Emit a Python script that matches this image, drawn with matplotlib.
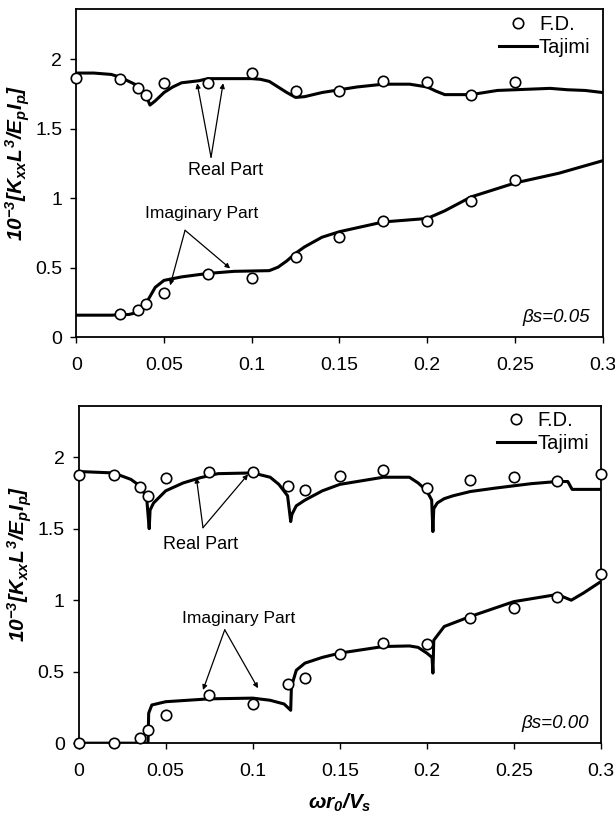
import numpy as np
import matplotlib
matplotlib.use('Agg')
import matplotlib.pyplot as plt
from matplotlib.lines import Line2D

plt.rcParams['font.family'] = ['Liberation Sans', 'DejaVu Sans']
plt.rcParams['mathtext.fontset'] = 'custom'
plt.rcParams['mathtext.it'] = 'Liberation Sans:italic:bold'
plt.rcParams['mathtext.rm'] = 'Liberation Sans:italic:bold'
plt.rcParams['mathtext.bf'] = 'Liberation Sans:italic:bold'
plt.rcParams['mathtext.default'] = 'it'

# ---- beta_s = 0.05 (top) ----
# Tajimi solution, real part
taj_re_05_x = [0, 0.01, 0.02, 0.025, 0.03, 0.035, 0.04, 0.042, 0.045, 0.05, 0.055, 0.06, 0.07,
               0.075, 0.09, 0.1, 0.105, 0.11, 0.115, 0.12, 0.125, 0.13, 0.14, 0.15, 0.16, 0.175,
               0.19, 0.2, 0.205, 0.21, 0.225, 0.24, 0.25, 0.26, 0.27, 0.28, 0.29, 0.3]
taj_re_05_y = [1.90, 1.90, 1.89, 1.87, 1.84, 1.81, 1.73, 1.67, 1.70, 1.76, 1.80, 1.83, 1.845,
               1.86, 1.86, 1.86, 1.855, 1.84, 1.80, 1.76, 1.725, 1.73, 1.76, 1.78, 1.80, 1.82,
               1.82, 1.80, 1.77, 1.745, 1.745, 1.775, 1.78, 1.785, 1.79, 1.78, 1.775, 1.76]
# Tajimi solution, imaginary part
taj_im_05_x = [0, 0.02, 0.03, 0.035, 0.04, 0.045, 0.05, 0.06, 0.075, 0.09, 0.11, 0.115, 0.12,
               0.125, 0.13, 0.14, 0.15, 0.175, 0.2, 0.21, 0.225, 0.25, 0.275, 0.3]
taj_im_05_y = [0.16, 0.16, 0.165, 0.18, 0.25, 0.36, 0.41, 0.435, 0.46, 0.475, 0.48, 0.505, 0.55,
               0.605, 0.65, 0.72, 0.76, 0.83, 0.855, 0.91, 1.01, 1.11, 1.18, 1.27]
# F.D. results
fd_re_05_x = [0, 0.025, 0.035, 0.04, 0.05, 0.075, 0.1, 0.125, 0.15, 0.175, 0.2, 0.225, 0.25]
fd_re_05_y = [1.865, 1.855, 1.79, 1.745, 1.83, 1.83, 1.90, 1.77, 1.77, 1.845, 1.835, 1.74, 1.835]
fd_im_05_x = [0.025, 0.035, 0.04, 0.05, 0.075, 0.1, 0.125, 0.15, 0.175, 0.2, 0.225, 0.25]
fd_im_05_y = [0.17, 0.195, 0.237, 0.32, 0.453, 0.43, 0.58, 0.72, 0.84, 0.84, 0.98, 1.13]

# ---- beta_s = 0.00 (bottom) ----
taj_re_00_x = [0, 0.02, 0.03, 0.035, 0.039, 0.0405, 0.041, 0.043, 0.05, 0.06, 0.07, 0.08, 0.1,
               0.11, 0.115, 0.12, 0.1218, 0.1225, 0.125, 0.13, 0.14, 0.15, 0.175, 0.19, 0.195,
               0.2, 0.2028, 0.2035, 0.204, 0.206, 0.21, 0.215, 0.225, 0.24, 0.25, 0.26, 0.275,
               0.281, 0.2835, 0.3]
taj_re_00_y = [1.90, 1.89, 1.845, 1.80, 1.72, 1.50, 1.63, 1.68, 1.765, 1.82, 1.857, 1.885, 1.89,
               1.86, 1.81, 1.73, 1.55, 1.60, 1.66, 1.70, 1.765, 1.81, 1.86, 1.86, 1.82,
               1.765, 1.70, 1.48, 1.64, 1.68, 1.71, 1.73, 1.76, 1.785, 1.80, 1.815, 1.83,
               1.83, 1.775, 1.775]
taj_im_00_x = [0, 0.0398, 0.0402, 0.042, 0.05, 0.075, 0.1, 0.11, 0.118, 0.1218, 0.1222, 0.125,
               0.13, 0.14, 0.15, 0.175, 0.19, 0.195, 0.2, 0.203, 0.2035, 0.204, 0.21, 0.225,
               0.25, 0.275, 0.283, 0.29, 0.3]
taj_im_00_y = [0, 0, 0.21, 0.267, 0.29, 0.31, 0.315, 0.30, 0.274, 0.23, 0.395, 0.51,
               0.56, 0.60, 0.63, 0.676, 0.68, 0.67, 0.63, 0.60, 0.49, 0.72, 0.816, 0.886,
               0.99, 1.04, 1.00, 1.05, 1.13]
fd_re_00_x = [0, 0.02, 0.035, 0.04, 0.05, 0.075, 0.1, 0.12, 0.13, 0.15, 0.175, 0.2, 0.225, 0.25,
              0.275, 0.3]
fd_re_00_y = [1.875, 1.875, 1.795, 1.73, 1.853, 1.897, 1.897, 1.80, 1.77, 1.87, 1.91, 1.785,
              1.84, 1.86, 1.835, 1.88]
fd_im_00_x = [0, 0.02, 0.035, 0.04, 0.05, 0.075, 0.1, 0.12, 0.13, 0.15, 0.175, 0.2, 0.225, 0.25,
              0.275, 0.3]
fd_im_00_y = [0, 0, 0.033, 0.09, 0.196, 0.337, 0.274, 0.414, 0.454, 0.625, 0.70, 0.695, 0.875,
              0.945, 1.02, 1.18]

xticks = [0, 0.05, 0.1, 0.15, 0.2, 0.25, 0.3]
xticklabels = ['0', '0.05', '0.1', '0.15', '0.2', '0.25', '0.3']
yticks = [0, 0.5, 1, 1.5, 2]
yticklabels = ['0', '0.5', '1', '1.5', '2']

fig = plt.figure(figsize=(6.15, 8.23), dpi=100)
ax1 = fig.add_axes([0.124, 0.590, 0.856, 0.399])
ax2 = fig.add_axes([0.128, 0.097, 0.849, 0.410])

ylab = r'$10^{-3}[K_{xx}L^{3}/E_{p}I_{p}]$'


def draw(ax, tre_x, tre_y, tim_x, tim_y, fre_x, fre_y, fim_x, fim_y, beta):
    ax.plot(tre_x, tre_y, color='black', lw=2.2, zorder=2)
    ax.plot(tim_x, tim_y, color='black', lw=2.2, zorder=2)
    ax.plot(fre_x, fre_y, 'o', ms=7.5, mfc='white', mec='black', mew=1.2, clip_on=False, zorder=3)
    ax.plot(fim_x, fim_y, 'o', ms=7.5, mfc='white', mec='black', mew=1.2, clip_on=False, zorder=3)
    ax.set_xlim(0, 0.3)
    ax.set_ylim(0, 2.36)
    ax.set_xticks(xticks)
    ax.set_xticklabels(xticklabels)
    ax.set_yticks(yticks)
    ax.set_yticklabels(yticklabels)
    ax.tick_params(labelsize=14, length=4, width=1)
    ax.tick_params(axis='x', pad=10)
    ax.tick_params(axis='y', pad=6)
    for s in ax.spines.values():
        s.set_linewidth(1.3)
    ax.set_ylabel(ylab, fontsize=15, labelpad=2)
    ax.yaxis.set_label_coords(-0.085, 0.53)
    handles = [Line2D([], [], ls='none', marker='o', ms=7.5, mfc='white', mec='black', mew=1.2),
               Line2D([], [], color='black', lw=2.2)]
    ax.legend(handles, ['F.D.', 'Tajimi'], loc='upper right', bbox_to_anchor=(1.0, 1.02),
              frameon=False, fontsize=14.5, handlelength=1.9, handletextpad=0.1,
              borderaxespad=0.2, labelspacing=0.2)
    ax.text(0.293, 0.14, beta, fontsize=13.5, fontstyle='italic', ha='right', va='center')


draw(ax1, taj_re_05_x, taj_re_05_y, taj_im_05_x, taj_im_05_y,
     fd_re_05_x, fd_re_05_y, fd_im_05_x, fd_im_05_y, 'βs=0.05')
draw(ax2, taj_re_00_x, taj_re_00_y, taj_im_00_x, taj_im_00_y,
     fd_re_00_x, fd_re_00_y, fd_im_00_x, fd_im_00_y, 'βs=0.00')

ap = dict(arrowstyle='-|>', color='black', lw=0.9, mutation_scale=7, shrinkA=0, shrinkB=0)

# top annotations
ax1.text(0.0851, 1.20, 'Real Part', fontsize=13, ha='center', va='center')
ax1.annotate('', xy=(0.0689, 1.827), xytext=(0.0768, 1.295), arrowprops=ap)
ax1.annotate('', xy=(0.0837, 1.827), xytext=(0.0768, 1.295), arrowprops=ap)
ax1.text(0.0715, 0.89, 'Imaginary Part', fontsize=12.5, ha='center', va='center')
ax1.annotate('', xy=(0.0535, 0.374), xytext=(0.062, 0.77), arrowprops=ap)
ax1.annotate('', xy=(0.0877, 0.496), xytext=(0.062, 0.77), arrowprops=ap)

# bottom annotations
ax2.text(0.070, 1.39, 'Real Part', fontsize=13, ha='center', va='center')
ax2.annotate('', xy=(0.0676, 1.857), xytext=(0.0714, 1.507), arrowprops=ap)
ax2.annotate('', xy=(0.0973, 1.88), xytext=(0.0714, 1.507), arrowprops=ap)
ax2.text(0.0916, 0.875, 'Imaginary Part', fontsize=12.5, ha='center', va='center')
ax2.annotate('', xy=(0.0714, 0.372), xytext=(0.0839, 0.793), arrowprops=ap)
ax2.annotate('', xy=(0.103, 0.384), xytext=(0.0839, 0.793), arrowprops=ap)

ax2.set_xlabel(r'$\omega r_{0}/V_{s}$', fontsize=15, labelpad=9)

fig.savefig('out.png', dpi=100)
